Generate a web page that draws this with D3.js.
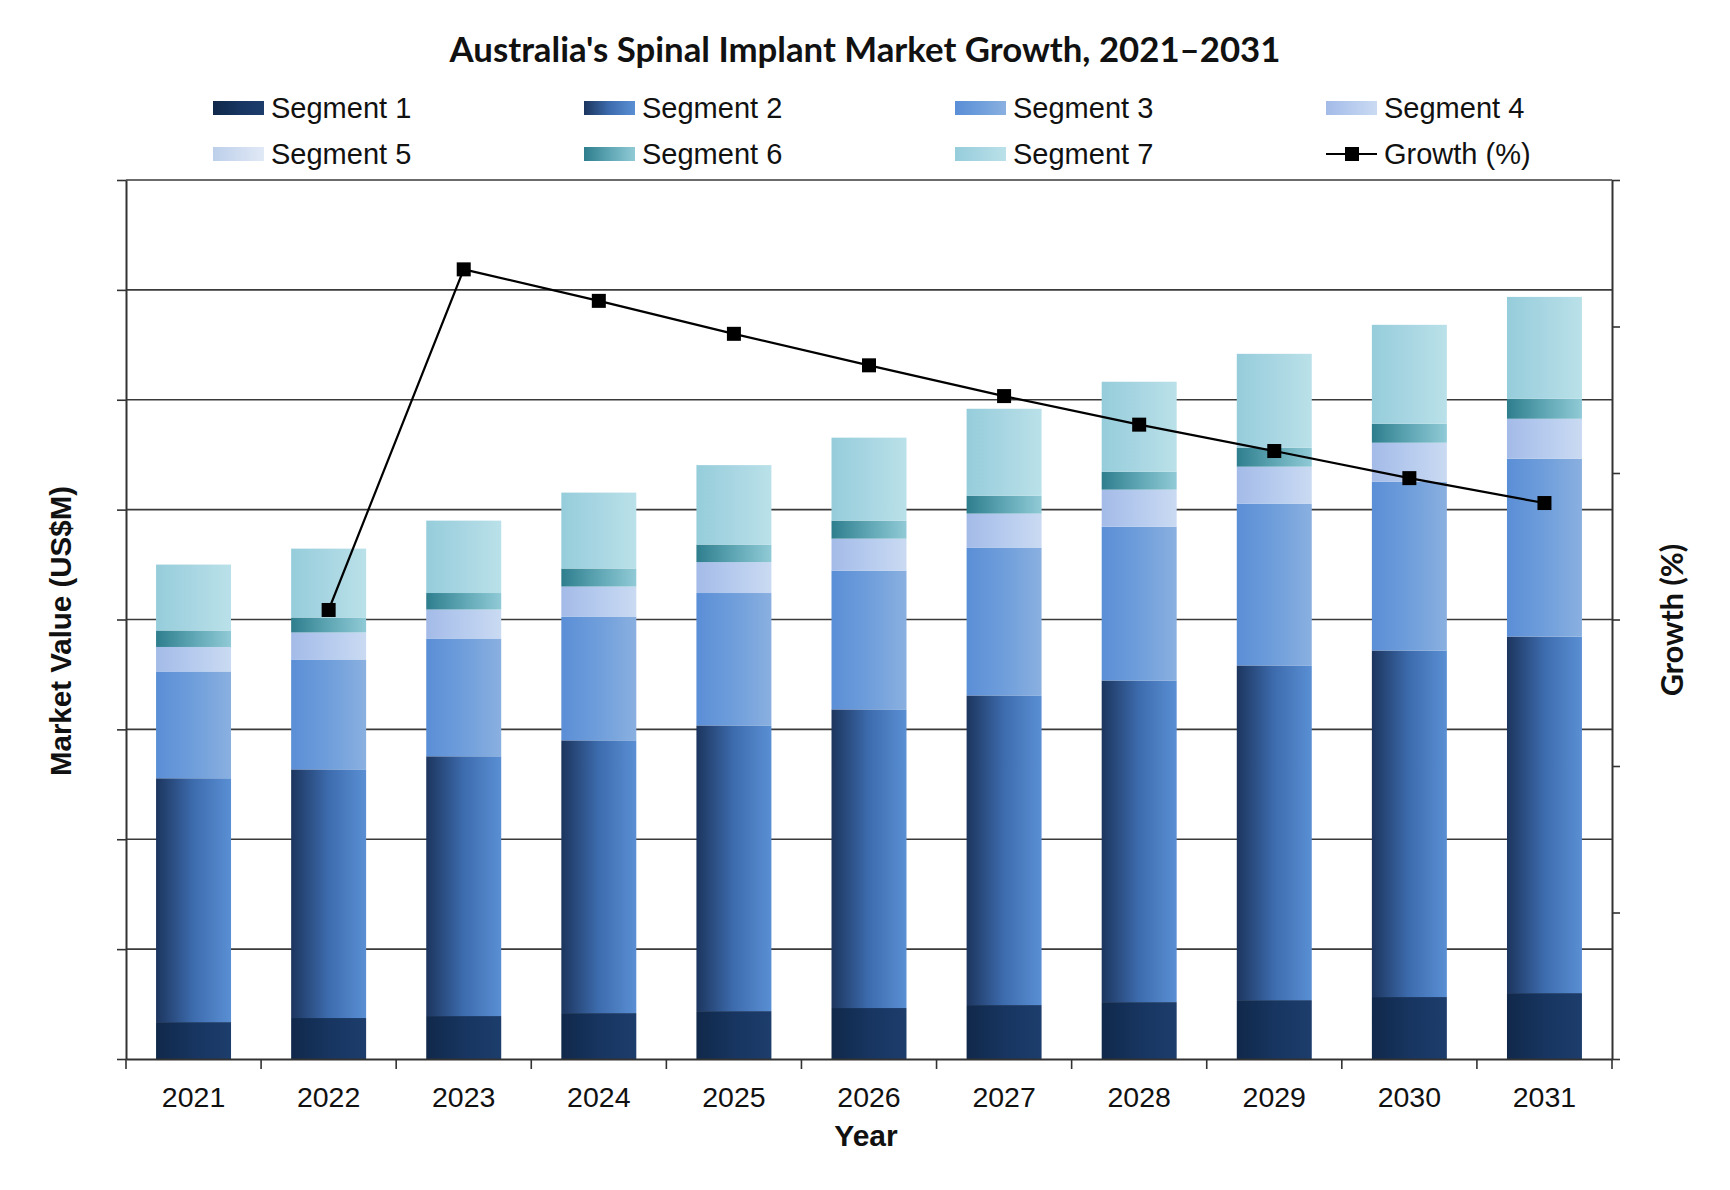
<!DOCTYPE html>
<html>
<head>
<meta charset="utf-8">
<script src="https://cdn.jsdelivr.net/npm/d3@7"></script>
<style>
  body { margin: 0; background: #fff; }
  svg { display: block; }
</style>
</head>
<body>
<script>
// chart values
var years = ['2021', '2022', '2023', '2024', '2025', '2026', '2027', '2028', '2029', '2030', '2031'];
var segment1 = [33.6, 37.3, 39.1, 41.8, 43.6, 46.4, 49.1, 51.8, 53.6, 56.4, 60.0];
var segment2 = [221.9, 226.3, 236.4, 248.2, 260.0, 271.8, 281.8, 292.7, 304.6, 315.4, 324.5];
var segment3 = [97.2, 100.0, 107.2, 112.7, 120.5, 126.3, 134.6, 140.0, 147.3, 153.7, 161.9];
var segment4 = [22.3, 24.6, 26.4, 27.3, 28.1, 29.1, 30.9, 33.7, 33.6, 35.4, 36.3];
var segment5 = [0, 0, 0, 0, 0, 0, 0, 0, 0, 0, 0];
var segment6 = [15.0, 13.6, 15.0, 16.4, 16.0, 16.4, 16.3, 16.3, 17.3, 17.3, 18.2];
var segment7 = [60.0, 62.7, 65.9, 69.1, 72.3, 75.5, 79.1, 81.9, 85.4, 90.0, 92.7];
var growth = [null, 6.13, 10.78, 10.35, 9.90, 9.47, 9.05, 8.66, 8.30, 7.93, 7.59];

var seriesNames = ['Segment 1', 'Segment 2', 'Segment 3', 'Segment 4', 'Segment 5', 'Segment 6', 'Segment 7'];
var seriesValues = [segment1, segment2, segment3, segment4, segment5, segment6, segment7];

// left -> right gradient stops per segment
var segColors = [
    ['#10284a', '#173560', '#1d3d6c'],
    ['#1c355e', '#3d6cae', '#5a8fd4'],
    ['#5a8ed6', '#6f9edb', '#8ab0e0'],
    ['#a4bbe8', '#b6cbee', '#cadaf2'],
    ['#bccfea', '#cfdcf0', '#e0e9f6'],
    ['#2e7e8e', '#5fa6b4', '#90cad6'],
    ['#96cddb', '#a8d6e2', '#bae1e9']
];

var svgWidth = 1730;
var svgHeight = 1190;

var chartMargin = {
    top: 180,
    right: 118,
    bottom: 131,
    left: 126
};

var chartWidth = svgWidth - chartMargin.left - chartMargin.right;
var chartHeight = svgHeight - chartMargin.top - chartMargin.bottom;

var svg = d3.select('body').append('svg')
    .attr('width', svgWidth)
    .attr('height', svgHeight);

var defs = svg.append('defs');
segColors.forEach(function(c, i) {
    var g = defs.append('linearGradient')
        .attr('id', 'seg' + i)
        .attr('x1', 0).attr('x2', 1).attr('y1', 0).attr('y2', 0);
    g.append('stop').attr('offset', '0%').attr('stop-color', c[0]);
    g.append('stop').attr('offset', '50%').attr('stop-color', c[1]);
    g.append('stop').attr('offset', '100%').attr('stop-color', c[2]);
});

var rows = years.map(function(y, i) {
    var r = { year: y };
    seriesNames.forEach(function(n, k) { r[n] = seriesValues[k][i]; });
    return r;
});

var stacked = d3.stack().keys(seriesNames)(rows);

var x = d3.scaleBand().domain(years).range([0, chartWidth]).padding(0);
var barW = x.bandwidth() * 0.555;
var y = d3.scaleLinear().domain([0, 800]).range([chartHeight, 0]);
var y2 = d3.scaleLinear().domain([0, 12]).range([chartHeight, 0]);

var chartGroup = svg.append('g')
    .attr('transform', `translate(${chartMargin.left}, ${chartMargin.top})`);

// gridlines
chartGroup.append('g')
    .selectAll('line')
    .data(d3.range(100, 801, 100))
    .enter()
    .append('line')
    .attr('x1', 0).attr('x2', chartWidth)
    .attr('y1', d => y(d)).attr('y2', d => y(d))
    .attr('stroke', '#3a3a3a')
    .attr('stroke-width', 1.6);

// bars
chartGroup.append('g')
    .selectAll('g')
    .data(stacked)
    .enter()
    .append('g')
    .attr('fill', (d, i) => `url(#seg${i})`)
    .selectAll('rect')
    .data(d => d)
    .enter()
    .append('rect')
    .attr('x', d => x(d.data.year) + (x.bandwidth() - barW) / 2)
    .attr('width', barW)
    .attr('y', d => y(d[1]))
    .attr('height', d => y(d[0]) - y(d[1]));

// axes, no tick labels
var yAxis = d3.axisLeft(y).tickValues(d3.range(0, 801, 100)).tickFormat('').tickSize(9).tickSizeOuter(0);
var y2Axis = d3.axisRight(y2).tickValues(d3.range(0, 13, 2)).tickFormat('').tickSize(8).tickSizeOuter(0);
var xAxis = d3.axisBottom(x).tickValues([]).tickSizeOuter(0);

var gy = chartGroup.append('g').call(yAxis);
var gy2 = chartGroup.append('g').attr('transform', `translate(${chartWidth}, 0)`).call(y2Axis);
var gx = chartGroup.append('g').attr('transform', `translate(0, ${chartHeight})`).call(xAxis);

// year boundary ticks
gx.selectAll('.sep')
    .data(d3.range(0, years.length + 1))
    .enter()
    .append('line')
    .attr('x1', d => d * x.step()).attr('x2', d => d * x.step())
    .attr('y1', 0).attr('y2', 10)
    .attr('stroke', '#333').attr('stroke-width', 1.6);

[gy, gy2, gx].forEach(function(g) {
    g.selectAll('.domain').attr('stroke', '#333').attr('stroke-width', 2);
    g.selectAll('.tick line').attr('stroke', '#333').attr('stroke-width', 1.6);
});

// year labels
chartGroup.append('g')
    .selectAll('text')
    .data(years)
    .enter()
    .append('text')
    .attr('x', d => x(d) + x.bandwidth() / 2)
    .attr('y', chartHeight + 48)
    .attr('text-anchor', 'middle')
    .style('font-family', '"Liberation Sans", Arial, sans-serif')
    .style('font-size', '28.5px')
    .style('fill', '#111')
    .text(d => d);

// growth line
var line = d3.line()
    .defined(d => d != null)
    .x((d, i) => x(years[i]) + x.bandwidth() / 2)
    .y(d => y2(d));

chartGroup.append('path')
    .datum(growth)
    .attr('d', line)
    .attr('fill', 'none')
    .attr('stroke', '#000')
    .attr('stroke-width', 2.2);

chartGroup.append('g')
    .selectAll('rect')
    .data(growth.map((g, i) => ({ g: g, year: years[i] })).filter(d => d.g != null))
    .enter()
    .append('rect')
    .attr('x', d => x(d.year) + x.bandwidth() / 2 - 7)
    .attr('y', d => y2(d.g) - 7)
    .attr('width', 14)
    .attr('height', 14)
    .attr('fill', '#000');

// title
var title = svg.append('text')
    .attr('x', 865)
    .attr('y', 62)
    .attr('text-anchor', 'middle')
    .style('font-family', 'Lato, "Open Sans", sans-serif')
    .style('font-weight', 700)
    .style('font-size', '31px')
    .style('fill', '#111')
    .text("Australia's Spinal Implant Market Growth, 2021\u20132031");
var tw = title.node().getComputedTextLength();
title.style('font-size', (31 * 831 / tw) + 'px');

// axis titles
svg.append('text')
    .attr('transform', 'translate(71, 631) rotate(-90)')
    .attr('text-anchor', 'middle')
    .style('font-family', '"Liberation Sans", Arial, sans-serif')
    .style('font-weight', 700)
    .style('font-size', '29.5px')
    .style('fill', '#111')
    .text('Market Value (US$M)');

svg.append('text')
    .attr('transform', 'translate(1683, 620) rotate(-90)')
    .attr('text-anchor', 'middle')
    .style('font-family', 'Lato, "Open Sans", sans-serif')
    .style('font-weight', 700)
    .style('font-size', '30.5px')
    .style('fill', '#111')
    .text('Growth (%)');

svg.append('text')
    .attr('x', 866)
    .attr('y', 1146)
    .attr('text-anchor', 'middle')
    .style('font-family', '"Liberation Sans", Arial, sans-serif')
    .style('font-weight', 700)
    .style('font-size', '30px')
    .style('fill', '#111')
    .text('Year');

// legend
var legendItems = seriesNames.concat(['Growth (%)']);
var legendCols = [213, 584, 955, 1326];
var legendRows = [108, 154];

var legend = svg.append('g')
    .selectAll('g')
    .data(legendItems)
    .enter()
    .append('g')
    .attr('transform', (d, i) => `translate(${legendCols[i % 4]}, ${legendRows[Math.floor(i / 4)]})`);

legend.filter((d, i) => i < 7)
    .append('rect')
    .attr('x', 0).attr('y', -7)
    .attr('width', 51).attr('height', 14)
    .attr('fill', (d, i) => `url(#seg${i})`);

var growthItem = legend.filter((d, i) => i === 7);
growthItem.append('line')
    .attr('x1', 0).attr('x2', 51)
    .attr('y1', 0).attr('y2', 0)
    .attr('stroke', '#000').attr('stroke-width', 2.2);
growthItem.append('rect')
    .attr('x', 19).attr('y', -7)
    .attr('width', 14).attr('height', 14)
    .attr('fill', '#000');

legend.append('text')
    .attr('x', 58)
    .attr('y', 10)
    .style('font-family', '"Liberation Sans", Arial, sans-serif')
    .style('font-size', '29px')
    .style('fill', '#111')
    .text(d => d);
</script>
</body>
</html>
